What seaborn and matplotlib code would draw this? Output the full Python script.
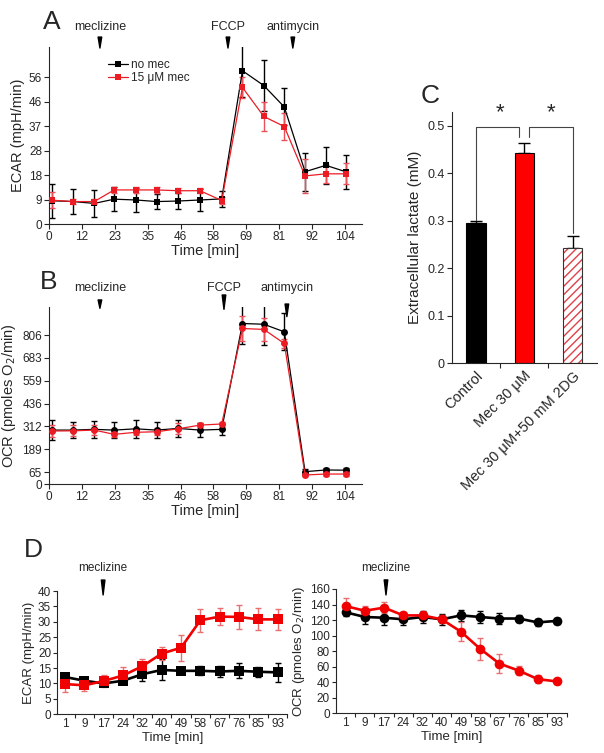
import matplotlib.pyplot as plt
import numpy as np
import pandas as pd
import seaborn as sns

sns.set_style("ticks")
plt.rcParams['font.family'] = ['Liberation Sans', 'DejaVu Sans']
plt.rcParams['hatch.linewidth'] = 1.0

RED = '#ec1c24'
RED_ERR = '#e8505a'

# ---- panel A / B : Seahorse time course
ab_time = [1.2, 8.5, 15.9, 22.9, 30.5, 37.8, 45.4, 53.1, 60.7, 68.0, 75.5, 82.7, 90.0, 97.3, 104.3]

a_nomec = [8.8, 8.5, 7.8, 9.4, 9.1, 8.5, 8.7, 9.1, 9.5, 58.0, 52.4, 44.3, 19.8, 22.2, 19.8]
a_nomec_err = [6.5, 4.7, 5.0, 4.5, 4.5, 3.0, 3.0, 4.0, 3.0, 10.0, 9.5, 7.0, 7.2, 7.0, 6.5]
a_mec = [9.0, 8.5, 8.5, 12.9, 12.9, 12.9, 12.6, 12.6, 8.9, 51.7, 40.7, 36.9, 18.2, 19.0, 19.0]
a_mec_err = [3.0, 1.0, 1.0, 1.0, 1.0, 1.0, 1.0, 1.0, 1.5, 4.0, 5.5, 5.0, 6.5, 3.5, 4.0]

b_nomec = [292, 292, 296, 292, 299, 292, 301, 292, 296, 869, 865, 824, 67, 76, 75]
b_nomec_err = [55, 45, 45, 45, 50, 45, 45, 40, 30, 110, 115, 100, 12, 10, 10]
b_mec = [287, 288, 292, 269, 280, 283, 299, 319, 325, 842, 837, 761, 49, 54, 54]
b_mec_err = [30, 30, 25, 12, 15, 20, 30, 10, 10, 70, 60, 25, 8, 8, 8]

ab_xticks = np.linspace(0, 104, 10)
ab_xticklabels = ['0', '12', '23', '35', '46', '58', '69', '81', '92', '104']
a_yticks = [0, 9.25, 18.5, 27.75, 37, 46.25, 55.5]
a_yticklabels = ['0', '9', '18', '28', '37', '46', '56']
b_yticks = [0, 65, 188.5, 312, 435.5, 559, 682.5, 806]
b_yticklabels = ['0', '65', '189', '312', '436', '559', '683', '806']

a_injections = [('meclizine', 17.9, 1.056, 0.994), ('FCCP', 62.9, 1.056, 0.994),
                ('antimycin', 85.7, 1.056, 0.994)]
b_injections = [('meclizine', 17.9, 1.038, 0.991), ('FCCP', 61.5, 1.066, 0.985),
                ('antimycin', 83.6, 1.015, 0.944)]

# ---- panel C : lactate
c_groups = ['Control', 'Mec 30 μM', 'Mec 30 μM+50 mM 2DG']
c_lactate = [0.296, 0.444, 0.242]
c_err = [0.003, 0.021, 0.026]

# ---- panel D : long time course
d_labels = ['1', '9', '17', '24', '32', '40', '49', '58', '67', '76', '85', '93']
d_ecar_ctrl = [12.1, 10.9, 10.0, 10.9, 13.0, 14.4, 14.1, 14.1, 13.9, 14.1, 13.8, 13.6]
d_ecar_ctrl_err = [0.8, 0.5, 0.8, 0.6, 2.2, 3.4, 1.0, 1.5, 1.8, 2.4, 1.7, 3.0]
d_ecar_mec = [9.8, 9.4, 10.8, 12.6, 15.6, 19.7, 21.6, 30.5, 31.7, 31.6, 30.8, 30.8]
d_ecar_mec_err = [2.5, 2.0, 2.0, 2.6, 2.2, 2.0, 4.2, 3.8, 2.7, 3.8, 3.6, 3.3]
d_ocr_ctrl = [130, 124, 123, 121, 124, 121, 126, 124, 122, 122, 117, 119]
d_ocr_ctrl_err = [5, 9, 9, 7, 8, 7, 7, 8, 7, 5, 4, 4]
d_ocr_mec = [138, 132, 136, 126, 126, 121, 105, 83, 64, 55, 44, 41]
d_ocr_mec_err = [10, 6, 7, 5, 5, 5, 12, 14, 12, 6, 5, 3]


def style_axes(ax, labelsize):
    sns.despine(ax=ax)
    for s in ax.spines.values():
        s.set_linewidth(0.8)
    ax.tick_params(direction='out', length=3.5, width=0.8, labelsize=labelsize, pad=1.5)


def injection(ax, label, x, y_top, y_tip, y_text, fs):
    ax.annotate('', xy=(x, y_tip), xytext=(x, y_top),
                xycoords=('data', 'axes fraction'), textcoords=('data', 'axes fraction'),
                arrowprops=dict(arrowstyle='wedge,tail_width=0.26', color='k',
                                shrinkA=0, shrinkB=0), annotation_clip=False)
    ax.text(x, y_text, label, transform=ax.get_xaxis_transform(), ha='center',
            va='center', fontsize=fs)


def series(ax, x, y, err, color, ecolor, marker, ms, lw, label=None, capsize=2.5):
    ax.errorbar(x, y, yerr=err, fmt='none', ecolor=ecolor, elinewidth=1,
                capsize=capsize, capthick=1, zorder=2)
    sns.lineplot(x=x, y=y, ax=ax, color=color, marker=marker, markersize=ms,
                 markeredgewidth=0, linewidth=lw, label=label, zorder=3)


fig = plt.figure(figsize=(6.04, 7.53), dpi=100)

# ---------------- A
axA = fig.add_axes([0.0811, 0.7025, 0.5182, 0.2351])
series(axA, ab_time, a_nomec, a_nomec_err, 'k', 'k', 's', 4.5, 0.9, 'no mec')
series(axA, ab_time, a_mec, a_mec_err, RED, RED_ERR, 's', 4.5, 0.9, '15 μM mec')
axA.set_xlim(0, 110)
axA.set_ylim(0, 67)
axA.set_xticks(ab_xticks, ab_xticklabels)
axA.set_yticks(a_yticks, a_yticklabels)
axA.set_xlabel('Time [min]', fontsize=10.5, labelpad=1)
axA.set_ylabel('ECAR (mpH/min)', fontsize=10.5, labelpad=3)
style_axes(axA, 8.5)
axA.legend(loc='upper left', bbox_to_anchor=(0.18, 0.945), frameon=False, fontsize=8.5,
           handlelength=1.7, handletextpad=0.3, labelspacing=0.1, borderaxespad=0,
           borderpad=0.2)
for lab, x, top, tip in a_injections:
    injection(axA, lab, x, top, tip, 1.113, 9)

# ---------------- B
axB = fig.add_axes([0.0811, 0.3572, 0.5182, 0.2355])
series(axB, ab_time, b_nomec, b_nomec_err, 'k', 'k', 'o', 5, 0.9)
series(axB, ab_time, b_mec, b_mec_err, RED, RED_ERR, 'o', 5, 0.9)
axB.set_xlim(0, 110)
axB.set_ylim(0, 960)
axB.set_xticks(ab_xticks, ab_xticklabels)
axB.set_yticks(b_yticks, b_yticklabels)
axB.set_xlabel('Time [min]', fontsize=10.5, labelpad=1)
axB.set_ylabel('OCR (pmoles O$_2$/min)', fontsize=10.5, labelpad=3)
style_axes(axB, 8.5)
for lab, x, top, tip in b_injections:
    injection(axB, lab, x, top, tip, 1.105, 9)

# ---------------- C
axC = fig.add_axes([0.7478, 0.5175, 0.2401, 0.3342])
dfc = pd.DataFrame({'group': c_groups, 'lactate': c_lactate})
sns.barplot(data=dfc, x='group', y='lactate', hue='group',
            palette=['black', '#ff0000', 'white'], legend=False, width=0.4,
            saturation=1, edgecolor='k', linewidth=0.8, ax=axC, zorder=2)
hatched = axC.patches[2]
hatched.set_hatch('////')
hatched.set_edgecolor('#e0404a')
hatched.set_linewidth(0)
axC.bar([2], [c_lactate[2]], width=0.4, fill=False, edgecolor='#333333', linewidth=0.8,
        zorder=3)
axC.errorbar(range(len(c_groups)), c_lactate, yerr=[[0] * 3, c_err], fmt='none',
             ecolor='k', elinewidth=1, capsize=4, capthick=1, zorder=1)
axC.set_xlim(-0.5, 2.5)
axC.set_ylim(0, 0.53)
axC.set_yticks([0, 0.1, 0.2, 0.3, 0.4, 0.5], ['0', '0.1', '0.2', '0.3', '0.4', '0.5'])
axC.set_xticks(range(3), c_groups, rotation=45, ha='right', rotation_mode='anchor')
axC.set_xticks([0.5, 1.5], minor=True)
axC.set_xlabel('')
axC.set_ylabel('Extracellular lactate (mM)', fontsize=11, labelpad=4)
style_axes(axC, 9)
axC.tick_params(axis='x', which='major', length=0, labelsize=10.5, pad=4)
axC.tick_params(axis='x', which='minor', direction='out', length=3.5, width=0.8)

# significance brackets
br_top = 0.497
br_col = '#444444'
axC.plot([0, 0, 0.9, 0.9], [c_lactate[0] + 0.005, br_top, br_top, 0.477], color=br_col, lw=0.8)
axC.plot([1.1, 1.1, 2, 2], [0.477, br_top, br_top, c_lactate[2] + c_err[2] + 0.006],
         color=br_col, lw=0.8)
axC.text(0.5, 0.505, '*', ha='center', va='bottom', fontsize=16)
axC.text(1.55, 0.505, '*', ha='center', va='bottom', fontsize=16)

# ---------------- D
d_x = np.arange(len(d_labels))

axD1 = fig.add_axes([0.0949, 0.0514, 0.3808, 0.1637])
series(axD1, d_x, d_ecar_ctrl, d_ecar_ctrl_err, 'k', 'k', 's', 6.5, 1.9, capsize=2.5)
series(axD1, d_x, d_ecar_mec, d_ecar_mec_err, '#f00000', '#e87070', 's', 6.5, 1.9, capsize=2.5)
axD1.set_xlim(-0.4, 11.5)
axD1.set_ylim(0, 40)
axD1.set_yticks(range(0, 41, 5))
axD1.set_ylabel('ECAR (mpH/min)', fontsize=9.5, labelpad=2)

axD2 = fig.add_axes([0.5563, 0.0527, 0.3819, 0.1651])
series(axD2, d_x, d_ocr_ctrl, d_ocr_ctrl_err, 'k', 'k', 'o', 7, 1.9, capsize=2.5)
series(axD2, d_x, d_ocr_mec, d_ocr_mec_err, '#f00000', '#e87070', 'o', 7, 1.9, capsize=2.5)
axD2.set_xlim(-0.5, 11.4)
axD2.set_ylim(0, 160)
axD2.set_yticks(range(0, 161, 20))
axD2.set_ylabel('OCR (pmoles O$_2$/min)', fontsize=9.5, labelpad=2)

for ax, xi, top, tip, yt in [(axD1, 1.97, 1.089, 0.968, 1.187), (axD2, 2.1, 1.073, 0.952, 1.17)]:
    ax.set_xticks(d_x, d_labels)
    ax.set_xticks(d_x + 0.5, minor=True)
    ax.set_xlabel('Time [min]', fontsize=9.5, labelpad=1)
    style_axes(ax, 8.5)
    ax.tick_params(axis='y', length=3)
    ax.tick_params(axis='x', which='major', length=0, pad=3)
    ax.tick_params(axis='x', which='minor', direction='out', length=3, width=0.8)
    injection(ax, 'meclizine', xi, top, tip, yt, 8.5)

# panel letters
for letter, x, y in [('A', 0.0856, 0.971), ('B', 0.081, 0.626), ('C', 0.712, 0.872),
                     ('D', 0.055, 0.2696)]:
    fig.text(x, y, letter, fontsize=19, ha='center', va='center')

fig.savefig('out.png', dpi=100)
